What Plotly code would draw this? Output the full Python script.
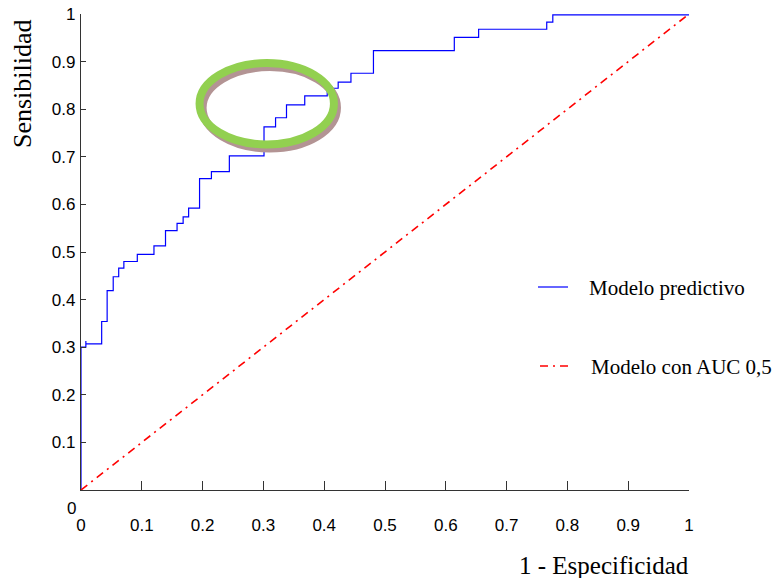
import plotly.graph_objects as go

# ---- data -------------------------------------------------------------
# ROC curve vertices of the predictive model (step curve, horizontal then vertical)
fpr = [0.0, 0.0, 0.008, 0.008, 0.034, 0.043, 0.053, 0.062, 0.0705, 0.0926,
       0.12, 0.139, 0.158, 0.168, 0.177, 0.195, 0.2145, 0.244, 0.301, 0.32,
       0.338, 0.368, 0.405, 0.423, 0.444, 0.481, 0.614, 0.654, 0.766, 0.776, 1.0]
tpr = [0.0, 0.300, 0.313, 0.307, 0.354, 0.419, 0.448, 0.466, 0.480, 0.495,
       0.513, 0.545, 0.560, 0.574, 0.592, 0.654, 0.669, 0.702, 0.763, 0.782,
       0.809, 0.828, 0.844, 0.857, 0.8755, 0.923, 0.951, 0.968, 0.983, 0.998, 0.998]

# Reference line (AUC 0.5)
diag_x = [0.0, 1.0]
diag_y = [0.0, 1.0]

x_ticks = [0, 0.1, 0.2, 0.3, 0.4, 0.5, 0.6, 0.7, 0.8, 0.9, 1]
x_tick_text = ["0", "0.1", "0.2", "0.3", "0.4", "0.5", "0.6", "0.7", "0.8", "0.9", "1"]
y_ticks = [0.1, 0.2, 0.3, 0.4, 0.5, 0.6, 0.7, 0.8, 0.9, 1]
y_tick_text = ["0.1", "0.2", "0.3", "0.4", "0.5", "0.6", "0.7", "0.8", "0.9", "1"]

series_names = ["Modelo predictivo", "Modelo con AUC 0,5"]
x_title = "1 - Especificidad"
y_title = "Sensibilidad"

# highlight ellipse (data coordinates)
ell_x0, ell_x1 = 0.195, 0.416
ell_y0, ell_y1 = 0.726, 0.897

# ---- layout constants (pixels) ---------------------------------------
W, H = 777, 578
ML, MR, MT, MB = 81, 88, 14, 88
PW, PH = W - ML - MR, H - MT - MB


def px(xp):
    return (xp - ML) / PW


def py(yp):
    return (H - MB - yp) / PH


colors = ["#0000ff", "#ff0000"]
dashes = ["solid", "8px,5px,2px,5px"]
widths = [1.2, 1.6]

# ---- figure -----------------------------------------------------------
fig = go.Figure()

fig.add_trace(go.Scatter(
    x=fpr, y=tpr, mode="lines",
    line=dict(color=colors[0], width=widths[0], shape="hv", dash=dashes[0]),
    name=series_names[0]))

fig.add_trace(go.Scatter(
    x=diag_x, y=diag_y, mode="lines",
    line=dict(color=colors[1], width=widths[1], dash=dashes[1]),
    name=series_names[1]))

# ellipse shadow + ellipse
sdx, sdy = 0.005, -0.0085
fig.add_shape(type="circle", xref="x", yref="y",
              x0=ell_x0 + sdx, x1=ell_x1 + sdx, y0=ell_y0 + sdy, y1=ell_y1 + sdy,
              line=dict(color="#b39494", width=8), layer="above")
fig.add_shape(type="circle", xref="x", yref="y",
              x0=ell_x0, x1=ell_x1, y0=ell_y0, y1=ell_y1,
              line=dict(color="#92d050", width=8), layer="above")

legend_font = dict(family="Liberation Serif, Times New Roman, serif", size=21, color="#000")

# hand-placed legend (keys + labels)
legend_rows = [(287, 538, 568, 587), (366, 540, 568, 589)]
annotations = []
for i, (ly, k0, k1, tx) in enumerate(legend_rows):
    fig.add_shape(type="line", xref="paper", yref="paper",
                  x0=px(k0), x1=px(k1), y0=py(ly), y1=py(ly),
                  line=dict(color=colors[i], width=widths[i], dash=dashes[i]))
    annotations.append(dict(text=series_names[i], x=px(tx), y=py(ly + 1), xref="paper",
                            yref="paper", xanchor="left", yanchor="middle",
                            showarrow=False, font=legend_font))

tick_font = dict(family="Liberation Sans, Arial, sans-serif", size=17, color="#000")
axis_common = dict(showgrid=False, zeroline=False, showline=True, linecolor="#333",
                   linewidth=1.3, ticks="inside", tickcolor="#333", tickwidth=1,
                   tickfont=tick_font, range=[0, 1], fixedrange=True)

fig.update_xaxes(**axis_common, tickmode="array", tickvals=x_ticks, ticktext=x_tick_text,
                 ticklen=9, ticklabelstandoff=19)
fig.update_yaxes(**axis_common, tickmode="array", tickvals=y_ticks, ticktext=y_tick_text,
                 ticklen=5, ticklabelstandoff=1)

annotations += [
    dict(text="0", x=0, y=0, xref="x", yref="y", showarrow=False,
         xshift=-9.5, yshift=-18, font=tick_font),
    dict(text=x_title, x=1, y=0, xref="paper", yref="paper", xanchor="right",
         yanchor="middle", yshift=-75, xshift=2, showarrow=False,
         font=dict(family="Liberation Serif, Times New Roman, serif", size=25, color="#000")),
    dict(text=y_title, x=0, y=py(84), xref="paper", yref="paper",
         xanchor="center", yanchor="middle", xshift=-59, textangle=-90, showarrow=False,
         font=dict(family="Liberation Serif, Times New Roman, serif", size=26, color="#000")),
]

fig.update_layout(
    width=W, height=H,
    margin=dict(l=ML, r=MR, t=MT, b=MB, autoexpand=False),
    paper_bgcolor="white", plot_bgcolor="white",
    showlegend=False,
    annotations=annotations,
)

fig.write_html("out.html")
